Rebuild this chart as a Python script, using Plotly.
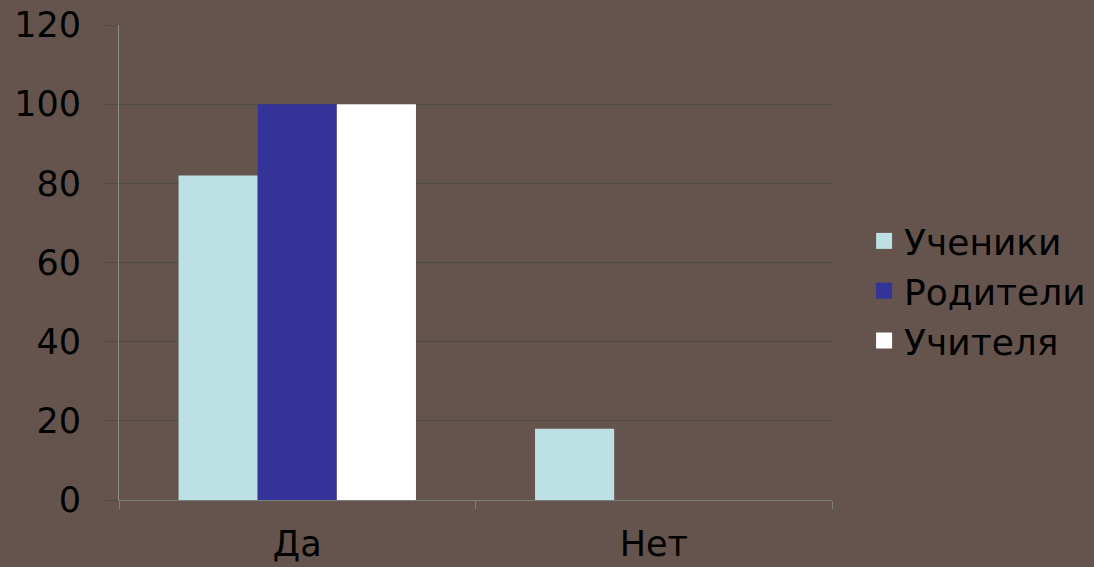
import plotly.graph_objects as go

categories = ["Да", "Нет"]
series_names = ["Ученики", "Родители", "Учителя"]
ucheniki = [82, 18]
roditeli = [100, 0]
uchitelya = [100, 0]
colors = ["#bce0e3", "#333399", "#ffffff"]
y_ticks = [0, 20, 40, 60, 80, 100, 120]

values = [ucheniki, roditeli, uchitelya]

fig = go.Figure()
for name, vals, col in zip(series_names, values, colors):
    fig.add_trace(go.Bar(x=categories, y=vals, name=name, marker=dict(color=col, line=dict(width=0)),
                         showlegend=False))
for name, col in zip(series_names, colors):
    fig.add_trace(go.Scatter(x=[None], y=[None], mode="markers", name=name,
                             marker=dict(symbol="square", size=18, color=col)))

bg = "#64544d"
fig.update_layout(
    width=1094, height=567,
    margin=dict(l=119, r=262, t=25, b=67, autoexpand=False),
    paper_bgcolor=bg, plot_bgcolor=bg,
    barmode="group", bargap=0.334, bargroupgap=0,
    font=dict(family="DejaVu Sans, Arial, sans-serif", color="#000000", size=32),
    legend=dict(x=1.045, xanchor="left", y=0.44, yanchor="middle",
                font=dict(size=36, color="#000000"), itemsizing="trace",
                bgcolor="rgba(0,0,0,0)", tracegroupgap=0),
)
fig.update_xaxes(
    type="category", showgrid=False, showline=True, linecolor="#7d7d7d", linewidth=1,
    ticks="outside", tickson="boundaries", ticklen=8, tickcolor="#7d7d7d",
    tickfont=dict(size=35), ticklabelstandoff=13, automargin=False,
)
fig.update_yaxes(
    range=[0, 120], tickvals=y_ticks, showgrid=True, gridcolor="#4e4a48", gridwidth=1,
    showline=True, linecolor="#8c8c8c", linewidth=1, zeroline=False,
    ticks="outside", ticklen=13, tickcolor="#4e4a48",
    tickfont=dict(size=35), ticklabelstandoff=17, automargin=False,
)
fig.write_html("out.html", config={"displayModeBar": False},
               post_script="document.body.style.margin='0';document.body.style.overflow='hidden';")
